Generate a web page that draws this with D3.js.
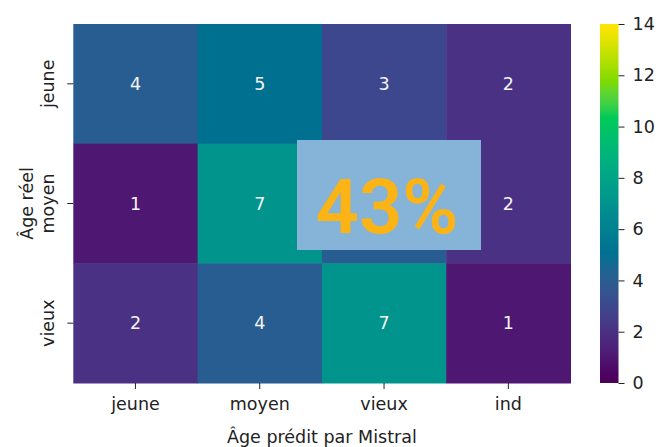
<!DOCTYPE html>
<meta charset="utf-8">
<style>
  body { margin: 0; background: #fff; }
  text { font-family: "DejaVu Sans", sans-serif; }
  .tick text { font-size: 17.5px; fill: #222; }
  .cell text { font-size: 17.5px; fill: #f4f4f4; text-anchor: middle; }
</style>
<body>
<script src="https://d3js.org/d3.v7.min.js"></script>
<script>

  var rowLabels = ["jeune", "moyen", "vieux"];
  var colLabels = ["jeune", "moyen", "vieux", "ind"];
  var counts = [
    [4, 5, 3, 2],
    [1, 7, 4, 2],
    [2, 4, 7, 1]
  ];
  var colorTicks = [0, 2, 4, 6, 8, 10, 12, 14];
  var overlayText = "43%";

  var width = 658, height = 447;
  var m = {left: 73.3, right: 570.5, top: 24, bottom: 383};

  // the reference viridis looks like sRGB values shown in a P3 space, so convert
  function toLin(c) { return c <= 0.04045 ? c / 12.92 : Math.pow((c + 0.055) / 1.055, 2.4); }
  function toEnc(c) {
    c = Math.max(0, Math.min(1, c));
    return c <= 0.0031308 ? c * 12.92 : 1.055 * Math.pow(c, 1 / 2.4) - 0.055;
  }
  function vivid(t) {
    var c = d3.rgb(d3.interpolateViridis(t));
    var r = toLin(c.r / 255), g = toLin(c.g / 255), b = toLin(c.b / 255);
    var r2 = 1.2249 * r - 0.2247 * g;
    var g2 = -0.0420 * r + 1.0419 * g;
    var b2 = -0.0197 * r - 0.0786 * g + 1.0983 * b;
    return d3.rgb(toEnc(r2) * 255, toEnc(g2) * 255, toEnc(b2) * 255).formatHex();
  }

  var svg = d3.select("body").append("svg")
    .attr("width", width)
    .attr("height", height);

  var x = d3.scaleBand().domain(colLabels).range([m.left, m.right]);
  var y = d3.scaleBand().domain(rowLabels).range([m.top, m.bottom]);
  var color = d3.scaleSequential(vivid).domain([0, 14]);

  var cells = [];
  counts.forEach(function(row, i) {
    row.forEach(function(v, j) {
      cells.push({ r: rowLabels[i], c: colLabels[j], v: v });
    });
  });

  var g = svg.selectAll(".cell")
    .data(cells)
    .enter().append("g")
    .attr("class", "cell");

  g.append("rect")
    .attr("x", function(d) { return x(d.c); })
    .attr("y", function(d) { return y(d.r); })
    .attr("width", x.bandwidth() + 0.5)
    .attr("height", y.bandwidth() + 0.5)
    .attr("fill", function(d) { return color(d.v); });

  g.append("text")
    .attr("x", function(d) { return x(d.c) + x.bandwidth() / 2; })
    .attr("y", function(d) { return y(d.r) + y.bandwidth() / 2; })
    .attr("dy", "0.36em")
    .text(function(d) { return d.v; });

  // axes
  var xAxis = svg.append("g")
    .attr("transform", "translate(0," + m.bottom + ")")
    .call(d3.axisBottom(x).tickSize(6).tickPadding(9));
  xAxis.select(".domain").remove();
  xAxis.selectAll(".tick line").attr("stroke", "#222");

  var yAxis = svg.append("g")
    .attr("transform", "translate(" + m.left + ",0)")
    .call(d3.axisLeft(y).tickSize(6));
  yAxis.select(".domain").remove();
  yAxis.selectAll(".tick line").attr("stroke", "#222");
  yAxis.selectAll(".tick text")
    .attr("x", 0).attr("y", 0).attr("dy", 0)
    .attr("text-anchor", "middle")
    .attr("transform", "translate(-19,0) rotate(-90)");

  svg.append("text")
    .attr("transform", "translate(" + ((m.left + m.right) / 2) + ",443)")
    .attr("text-anchor", "middle")
    .attr("font-size", "17.5px")
    .attr("fill", "#222")
    .text("Âge prédit par Mistral");

  svg.append("text")
    .attr("transform", "translate(33," + ((m.top + m.bottom) / 2) + ") rotate(-90)")
    .attr("text-anchor", "middle")
    .attr("font-size", "17.5px")
    .attr("fill", "#222")
    .text("Âge réel");

  // colorbar
  var cbX = 600, cbW = 18.5;
  var cb = d3.scaleLinear().domain([0, 14]).range([m.bottom, m.top]);

  var grad = svg.append("defs").append("linearGradient")
    .attr("id", "viridis")
    .attr("x1", 0).attr("y1", 1).attr("x2", 0).attr("y2", 0);
  grad.selectAll("stop")
    .data(d3.range(0, 1.0001, 0.02))
    .enter().append("stop")
    .attr("offset", function(t) { return t; })
    .attr("stop-color", function(t) { return vivid(t); });

  svg.append("rect")
    .attr("x", cbX)
    .attr("y", m.top)
    .attr("width", cbW)
    .attr("height", m.bottom - m.top)
    .attr("fill", "url(#viridis)");

  var cAxis = svg.append("g")
    .attr("transform", "translate(" + (cbX + cbW) + ",0)")
    .call(d3.axisRight(cb).tickValues(colorTicks).tickSize(6).tickPadding(8));
  cAxis.select(".domain").remove();
  cAxis.selectAll(".tick line").attr("stroke", "#222");

  // overlay box
  svg.append("rect")
    .attr("x", 297)
    .attr("y", 140)
    .attr("width", 184)
    .attr("height", 110)
    .attr("fill", "#85b4d8");

  svg.append("text")
    .attr("x", 387)
    .attr("y", 233)
    .attr("text-anchor", "middle")
    .style("font-family", "Roboto, sans-serif")
    .style("font-weight", 600)
    .style("font-size", "76px")
    .attr("fill", "#fcb315")
    .text(overlayText);
</script>
